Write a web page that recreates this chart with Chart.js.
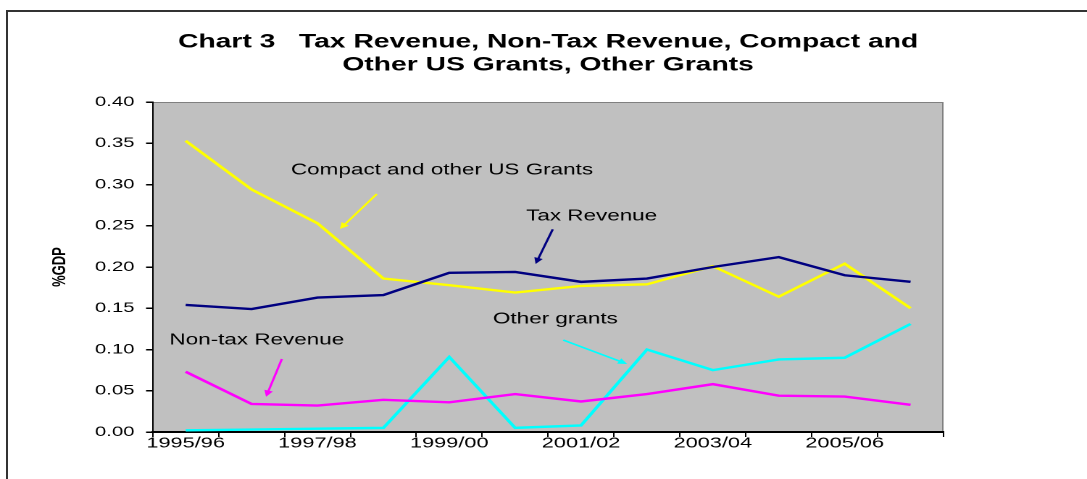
<!DOCTYPE html>
<html>
<head>
<meta charset="utf-8">
<script src="https://cdn.jsdelivr.net/npm/chart.js@4.4.1/dist/chart.umd.min.js"></script>
<style>
  html, body { margin: 0; padding: 0; background: #fff; overflow: hidden; }
  /* the source picture is stretched sideways, so the chart is drawn narrow and widened */
  #wrap { position: absolute; left: 0; top: 0; width: 750px; height: 479px; transform: scaleX(1.449333); transform-origin: 0 0; }
  #frame { position: absolute; left: 6px; top: 10px; right: 0; bottom: 0; border-left: 2px solid #333; border-top: 2px solid #333; pointer-events: none; }
</style>
</head>
<body>
<div id="frame"></div>
<div id="wrap"><canvas id="chart" width="750" height="479"></canvas></div>
<script>
// Years (fiscal)
const years = ['1995/96', '1996/97', '1997/98', '1998/99', '1999/00', '2000/01',
               '2001/02', '2002/03', '2003/04', '2004/05', '2005/06', '2006/07'];

// Shares of GDP
const taxRevenue    = [0.154, 0.149, 0.163, 0.166, 0.193, 0.194, 0.182, 0.186, 0.200, 0.212, 0.190, 0.182];
const compactGrants = [0.353, 0.294, 0.253, 0.186, 0.178, 0.169, 0.177, 0.179, 0.201, 0.164, 0.204, 0.150];
const nonTaxRevenue = [0.073, 0.034, 0.032, 0.039, 0.036, 0.046, 0.037, 0.046, 0.058, 0.044, 0.043, 0.033];
const otherGrants   = [0.002, 0.003, 0.004, 0.005, 0.091, 0.005, 0.008, 0.100, 0.075, 0.088, 0.090, 0.131];

// Call-out labels, placed in data units (category index, value)
const notes = [
  { text: 'Compact and other US Grants', color: '#ffff00', at: [3.89, 0.3176], from: [2.90, 0.2885], to: [2.34, 0.246] },
  { text: 'Tax Revenue', color: '#000080', at: [6.16, 0.2618], from: [5.57, 0.2457], to: [5.31, 0.2036] },
  { text: 'Other grants', color: '#00ffff', at: [5.61, 0.1366], from: [5.73, 0.1115], to: [6.70, 0.0824] },
  { text: 'Non-tax Revenue', color: '#ff00ff', at: [1.08, 0.1115], from: [1.46, 0.0885], to: [1.22, 0.0428] },
];

const FONT = "'Liberation Sans', Arial, Helvetica, sans-serif";
Chart.defaults.font.family = FONT;
Chart.defaults.color = '#000';

const plotBackground = {
  id: 'plotBackground',
  beforeDraw(chart) {
    const { ctx, chartArea: a } = chart;
    ctx.save();
    ctx.fillStyle = '#c0c0c0';
    ctx.fillRect(a.left, a.top, a.width, a.height);
    ctx.strokeStyle = '#808080';
    ctx.lineWidth = 1;
    ctx.beginPath();
    ctx.moveTo(a.left, a.top + 0.5);
    ctx.lineTo(a.right - 0.5, a.top + 0.5);
    ctx.lineTo(a.right - 0.5, a.bottom);
    ctx.stroke();
    ctx.restore();
  }
};

const callouts = {
  id: 'callouts',
  afterDatasetsDraw(chart) {
    const { ctx, scales: { x, y } } = chart;
    ctx.save();
    ctx.font = '15.5px ' + FONT;
    ctx.textAlign = 'center';
    ctx.textBaseline = 'middle';
    notes.forEach((n) => {
      ctx.fillStyle = '#000';
      ctx.fillText(n.text, x.getPixelForValue(n.at[0]), y.getPixelForValue(n.at[1]));

      const x1 = x.getPixelForValue(n.from[0]), y1 = y.getPixelForValue(n.from[1]);
      const x2 = x.getPixelForValue(n.to[0]), y2 = y.getPixelForValue(n.to[1]);
      const ang = Math.atan2(y2 - y1, x2 - x1);
      const head = 7;
      ctx.strokeStyle = n.color;
      ctx.fillStyle = n.color;
      ctx.lineWidth = 1.6;
      ctx.beginPath();
      ctx.moveTo(x1, y1);
      ctx.lineTo(x2 - Math.cos(ang) * 3, y2 - Math.sin(ang) * 3);
      ctx.stroke();
      ctx.beginPath();
      ctx.moveTo(x2, y2);
      ctx.lineTo(x2 - head * Math.cos(ang - 0.45), y2 - head * Math.sin(ang - 0.45));
      ctx.lineTo(x2 - head * Math.cos(ang + 0.45), y2 - head * Math.sin(ang + 0.45));
      ctx.closePath();
      ctx.fill();
    });
    ctx.restore();
  }
};

function line(label, data, color) {
  return {
    label: label,
    data: data,
    borderColor: color,
    backgroundColor: color,
    borderWidth: 2.4,
    pointRadius: 0,
    tension: 0,
    fill: false,
  };
}

new Chart(document.getElementById('chart'), {
  type: 'line',
  data: {
    labels: years,
    datasets: [
      line('Tax Revenue', taxRevenue, '#000080'),
      line('Compact and other US Grants', compactGrants, '#ffff00'),
      line('Non-tax Revenue', nonTaxRevenue, '#ff00ff'),
      line('Other grants', otherGrants, '#00ffff'),
    ],
  },
  options: {
    responsive: false,
    devicePixelRatio: 2,
    animation: false,
    layout: { padding: { left: 29.6, right: 99, top: 10, bottom: 0 } },
    plugins: {
      legend: { display: false },
      tooltip: { enabled: false },
      title: {
        display: true,
        fullSize: false,
        text: ['Chart 3   Tax Revenue, Non-Tax Revenue, Compact and', 'Other US Grants, Other Grants'],
        font: { size: 19.5, weight: 'bold', lineHeight: 1.18 },
        color: '#000',
        padding: { top: 20.5, bottom: 25.5 },
      },
    },
    scales: {
      x: {
        type: 'category',
        offset: true,
        grid: { offset: true, drawOnChartArea: false, drawTicks: true, tickLength: 5, color: '#000', lineWidth: 1 },
        border: { color: '#000', width: 2 },
        ticks: {
          autoSkip: false,
          maxRotation: 0,
          minRotation: 0,
          padding: -1,
          font: { size: 15, lineHeight: 1 },
          color: '#000',
          callback: (value, index) => (index % 2 === 0 ? years[index] : ''),
        },
        afterFit: (scale) => { scale.height = 47; },
      },
      y: {
        min: 0,
        max: 0.4,
        grid: { drawOnChartArea: false, drawTicks: true, tickLength: 4.6, color: '#000', lineWidth: 1.5 },
        border: { color: '#000', width: 1 },
        ticks: {
          stepSize: 0.05,
          padding: 8,
          font: { size: 14 },
          color: '#000',
          callback: (v) => v.toFixed(2),
        },
        title: {
          display: true,
          text: '%GDP',
          font: { size: 13, weight: 'bold' },
          color: '#000',
          padding: { top: 4, bottom: 0 },
        },
        afterFit: (scale) => { scale.width = 75.76; },
      },
    },
  },
  plugins: [plotBackground, callouts],
});
</script>
</body>
</html>
